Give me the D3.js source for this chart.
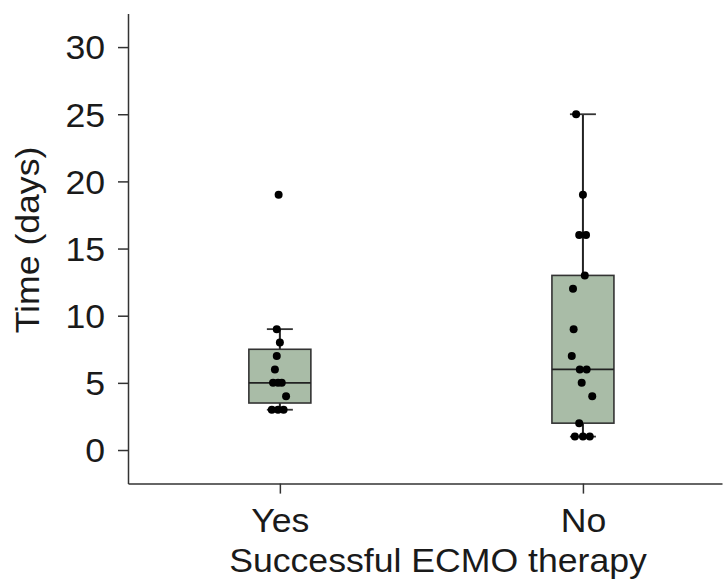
<!DOCTYPE html>
<html lang="en">
<head>
<meta charset="UTF-8">
<title>Time on ECMO by outcome</title>
<script src="https://d3js.org/d3.v7.min.js"></script>
<style>
  body { margin: 0; background: #fff; }
  svg text { font-family: "Liberation Sans", Arial, Helvetica, sans-serif; fill: #1a1a1a; }
</style>
</head>
<body>
<svg width="728" height="580"></svg>
<script>
// categories
const groups = ["Yes", "No"];
// box stats: [whisker low, q1, median, q3, whisker high]
const boxYes = [3, 3.5, 5, 7.5, 9];
const boxNo = [1, 2, 6, 13, 25];
// individual patients (days) and their horizontal jitter (fraction of box width)
const pointsYes = [19, 9, 8, 7, 6, 5, 5, 5, 4, 3, 3, 3];
const jitterYes = [-0.02, -0.05, 0, -0.05, -0.08, -0.11, -0.03, 0.03, 0.1, -0.13, -0.03, 0.06];
const pointsNo = [25, 19, 16, 16, 13, 12, 9, 7, 6, 6, 5, 4, 2, 1, 1, 1];
const jitterNo = [-0.11, 0, -0.06, 0.05, 0.03, -0.16, -0.15, -0.18, -0.05, 0.06, -0.02, 0.15, -0.06, -0.13, 0, 0.11];
const yTicks = [0, 5, 10, 15, 20, 25, 30];

const boxes = [
  { group: "Yes", stats: boxYes, pts: pointsYes, jit: jitterYes },
  { group: "No", stats: boxNo, pts: pointsNo, jit: jitterNo }
];

const svg = d3.select("svg");
const plotLeft = 128, plotRight = 722, plotTop = 13.5, plotBottom = 483.6;
const boxW = 62, capW = 26;
const stretch = 1.08; // text in the original renders a bit wide

const y = d3.scaleLinear().domain([-2.5, 32.5]).range([plotBottom, plotTop]);
const x = d3.scalePoint().domain(groups).range([plotLeft, plotRight]).padding(0.48).align(0.522);
const jx = d3.scaleLinear().domain([-0.5, 0.5]).range([-boxW / 2, boxW / 2]);

// y axis
const yAxis = svg.append("g")
    .attr("transform", `translate(${plotLeft},0)`)
    .call(d3.axisLeft(y).tickValues(yTicks).tickSize(10).tickSizeOuter(0).tickPadding(13));
yAxis.selectAll("text")
    .attr("font-size", 33)
    .attr("x", -23 / stretch)
    .attr("dy", "0.36em")
    .attr("transform", `scale(${stretch},1)`);

// x axis
const xAxis = svg.append("g")
    .attr("transform", `translate(0,${plotBottom})`)
    .call(d3.axisBottom(x).tickSize(10).tickSizeOuter(0));
xAxis.selectAll("text")
    .attr("font-size", 33)
    .attr("y", 48)
    .attr("dy", 0)
    .attr("transform", `scale(${stretch},1)`);

svg.selectAll(".domain, .tick line").attr("stroke", "#333").attr("stroke-width", 1.5);

// boxes
const g = svg.append("g").selectAll("g").data(boxes).join("g")
    .attr("transform", d => `translate(${x(d.group)},0)`);

g.append("line")
    .attr("y1", d => y(d.stats[0])).attr("y2", d => y(d.stats[4]))
    .attr("stroke", "#222").attr("stroke-width", 2);

g.append("rect")
    .attr("x", -boxW / 2).attr("width", boxW)
    .attr("y", d => y(d.stats[3]))
    .attr("height", d => y(d.stats[1]) - y(d.stats[3]))
    .attr("fill", "#a9bca7").attr("stroke", "#333").attr("stroke-width", 1.6);

g.append("line")
    .attr("x1", -boxW / 2).attr("x2", boxW / 2)
    .attr("y1", d => y(d.stats[2])).attr("y2", d => y(d.stats[2]))
    .attr("stroke", "#222").attr("stroke-width", 1.8);

g.selectAll(".cap").data(d => [d.stats[0], d.stats[4]]).join("line")
    .attr("class", "cap")
    .attr("x1", -capW / 2).attr("x2", capW / 2)
    .attr("y1", v => y(v)).attr("y2", v => y(v))
    .attr("stroke", "#333").attr("stroke-width", 1.8);

g.selectAll("circle").data(d => d.pts.map((v, i) => ({ v, j: d.jit[i] }))).join("circle")
    .attr("cx", p => jx(p.j))
    .attr("cy", p => y(p.v))
    .attr("r", 4)
    .attr("fill", "#000");

// axis titles
svg.append("text")
    .attr("transform", `translate(39,240) rotate(-90) scale(${stretch},1)`)
    .attr("text-anchor", "middle")
    .attr("font-size", 33)
    .text("Time (days)");

svg.append("text")
    .attr("transform", `translate(438,572) scale(${stretch},1)`)
    .attr("text-anchor", "middle")
    .attr("font-size", 33)
    .text("Successful ECMO therapy");
</script>
</body>
</html>
